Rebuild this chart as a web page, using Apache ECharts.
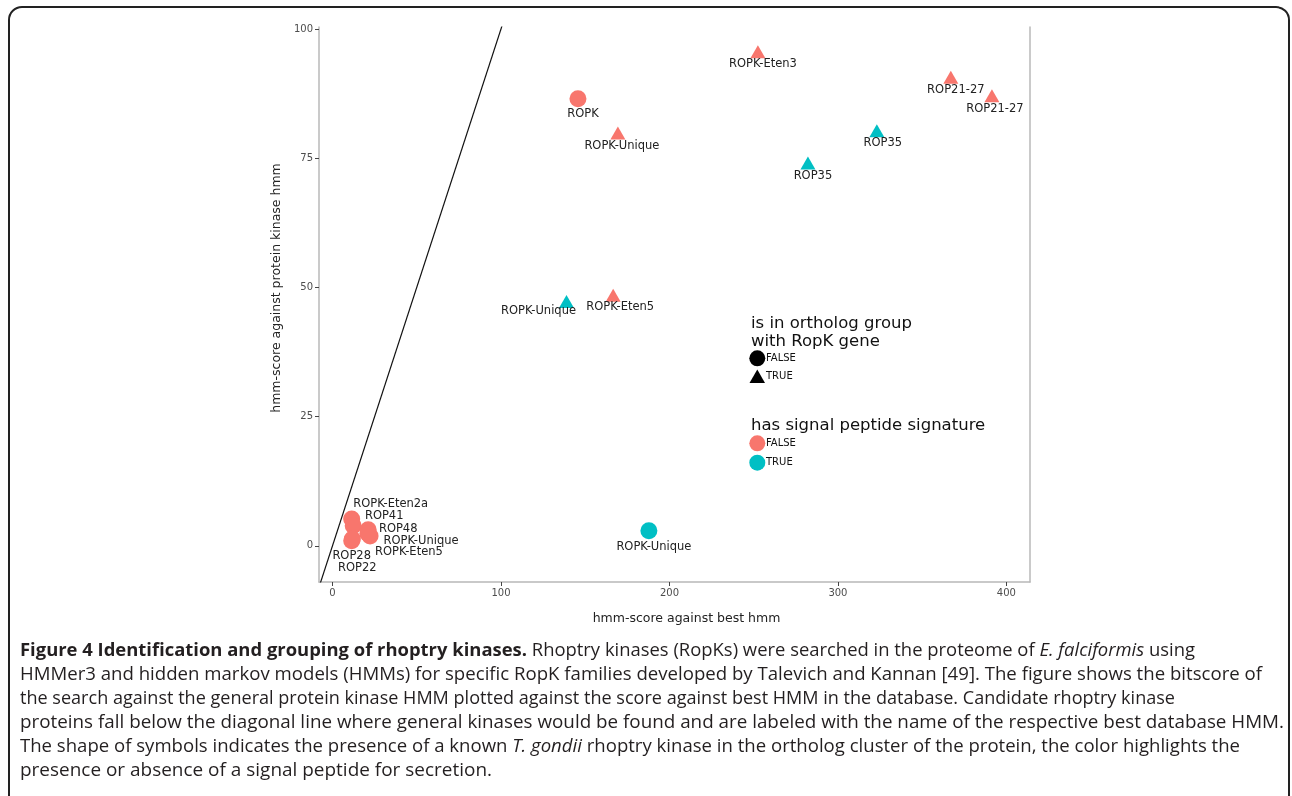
<!DOCTYPE html>
<html><head><meta charset="utf-8">
<script src="https://cdn.jsdelivr.net/npm/echarts@6/dist/echarts.min.js"></script>
<style>
html,body{margin:0;padding:0;background:#fff;}
#chart{position:absolute;left:0;top:0;width:1292px;height:796px;}
#frame{position:absolute;left:8px;top:6px;width:1282px;height:900px;border:2px solid #222;border-radius:14px;pointer-events:none;box-sizing:border-box}
#caption{position:absolute;left:20px;top:637px;font-family:'Open Sans';font-size:17.5px;line-height:24px;color:#231f20;white-space:nowrap}
#caption .ln{display:block;transform-origin:0 50%;width:max-content}
</style></head><body>
<div id="chart"></div>
<div id="frame"></div>
<div id="caption">
<span class="ln" data-w="1175"><b>Figure 4 Identification and grouping of rhoptry kinases.</b> Rhoptry kinases (RopKs) were searched in the proteome of <i>E. falciformis</i> using</span>
<span class="ln" data-w="1242">HMMer3 and hidden markov models (HMMs) for specific RopK families developed by Talevich and Kannan [49]. The figure shows the bitscore of</span>
<span class="ln" data-w="1155">the search against the general protein kinase HMM plotted against the score against best HMM in the database. Candidate rhoptry kinase</span>
<span class="ln" data-w="1264">proteins fall below the diagonal line where general kinases would be found and are labeled with the name of the respective best database HMM.</span>
<span class="ln" data-w="1220">The shape of symbols indicates the presence of a known <i>T. gondii</i> rhoptry kinase in the ortholog cluster of the protein, the color highlights the</span>
<span class="ln" data-w="472">presence or absence of a signal peptide for secretion.</span>
</div>
<script>
// ---- data ----
const names = ['ROPK-Eten3','ROP21-27','ROP21-27','ROPK','ROPK-Unique','ROP35','ROP35','ROPK-Unique','ROPK-Eten5','ROPK-Unique',
  'ROPK-Eten2a','ROP41','ROP48','ROPK-Unique','ROPK-Eten5','ROP28','ROP22'];
const bestHmm = [252.5, 367.0, 391.4, 145.7, 169.4, 323.1, 282.2, 138.9, 166.6, 187.8,
  11.4, 12.3, 21.2, 22.3, 21.0, 11.4, 11.8];
const kinaseHmm = [95.6, 90.7, 87.1, 86.5, 79.9, 80.3, 74.1, 47.3, 48.5, 2.9,
  5.2, 3.9, 3.1, 1.9, 2.4, 1.0, 1.3];
const inOrthologGroup = [true, true, true, false, true, true, true, true, true, false,
  false, false, false, false, false, false, false];
const hasSignalPeptide = [false, false, false, false, false, true, true, true, false, true,
  false, false, false, false, false, false, false];
const xTicks = [0, 100, 200, 300, 400];
const yTicks = [0, 25, 50, 75, 100];
const diagonal = [-20, 120];

// ---- layout/style (not data) ----
const labelOffsets = [[5,12],[5,13],[3,13],[5,15],[4,13],[6,12],[5,13],[-28,10],[7,12],[5,16],
  [39,-15],[31,-10],[30,-1],[51,5],[41,19],[0,15],[5,29]];
const COL_FALSE = '#F8766D', COL_TRUE = '#00BFC4';

const pts = names.map((n, i) => ({
  value: [bestHmm[i], kinaseHmm[i]],
  name: n,
  symbol: inOrthologGroup[i] ? 'triangle' : 'circle',
  symbolSize: inOrthologGroup[i] ? [15, 13] : 17,
  itemStyle: { color: hasSignalPeptide[i] ? COL_TRUE : COL_FALSE, opacity: 1 },
  label: { offset: labelOffsets[i] }
}));

const chart = echarts.init(document.getElementById('chart'), null, { renderer: 'canvas' });
const axisLabelStyle = { fontFamily: 'DejaVu Sans', fontSize: 10, color: '#4d4d4d' };
const option = {
  backgroundColor: '#fff',
  animation: false,
  grid: { left: 319, top: 27, width: 711, height: 555, containLabel: false },
  xAxis: {
    type: 'value', min: -8, max: 414,
    name: 'hmm-score against best hmm', nameLocation: 'middle', nameGap: 30,
    nameTextStyle: { fontFamily: 'DejaVu Sans', fontSize: 12.5, color: '#222', padding: [0, 0, 0, 24] },
    axisLine: { show: true, onZero: false, lineStyle: { color: '#b8b8b8', width: 1.5 } },
    axisTick: { show: true, customValues: xTicks, length: 4, lineStyle: { color: '#444', width: 1 } },
    axisLabel: Object.assign({ customValues: xTicks, margin: 6 }, axisLabelStyle),
    splitLine: { show: false }
  },
  yAxis: [{
    type: 'value', min: -7, max: 100.4,
    name: 'hmm-score against protein kinase hmm', nameLocation: 'middle', nameGap: 33, nameRotate: 90,
    nameTextStyle: { fontFamily: 'DejaVu Sans', fontSize: 12.5, color: '#222', padding: [0, 0, 0, 33] },
    axisLine: { show: true, onZero: false, lineStyle: { color: '#b8b8b8', width: 1.5 } },
    axisTick: { show: true, customValues: yTicks, length: 4, lineStyle: { color: '#444', width: 1 } },
    axisLabel: Object.assign({ customValues: yTicks, margin: 6 }, axisLabelStyle),
    splitLine: { show: false }
  }, {
    type: 'value', min: -7, max: 100.4, position: 'right',
    axisLine: { show: true, onZero: false, lineStyle: { color: '#b8b8b8', width: 1.5 } },
    axisTick: { show: false }, axisLabel: { show: false }, splitLine: { show: false }
  }],
  series: [{
    type: 'line',
    data: diagonal.map(v => [v, v]),
    symbol: 'none', clip: true, silent: true,
    lineStyle: { color: '#111', width: 1.2 }
  }, {
    type: 'scatter',
    data: pts,
    label: {
      show: true, position: 'inside', formatter: p => p.name,
      fontFamily: 'DejaVu Sans', fontSize: 11.5, color: '#222'
    }
  }],
  graphic: [
    { type: 'text', left: 751, top: 315, style: { text: 'is in ortholog group\nwith RopK gene', font: '16.5px DejaVu Sans', fill: '#111', lineHeight: 18 } },
    { type: 'circle', shape: { cx: 757.3, cy: 358.3, r: 8 }, style: { fill: '#000' } },
    { type: 'text', left: 766, top: 353, style: { text: 'FALSE', font: '10px DejaVu Sans', fill: '#111' } },
    { type: 'polygon', shape: { points: [[757.3, 369.5], [749.5, 383], [765, 383]] }, style: { fill: '#000' } },
    { type: 'text', left: 766, top: 371.5, style: { text: 'TRUE', font: '10px DejaVu Sans', fill: '#111' } },
    { type: 'text', left: 751, top: 417, style: { text: 'has signal peptide signature', font: '16.5px DejaVu Sans', fill: '#111' } },
    { type: 'circle', shape: { cx: 757.3, cy: 443.3, r: 8 }, style: { fill: COL_FALSE } },
    { type: 'text', left: 766, top: 438, style: { text: 'FALSE', font: '10px DejaVu Sans', fill: '#111' } },
    { type: 'circle', shape: { cx: 757.3, cy: 462.7, r: 8 }, style: { fill: COL_TRUE } },
    { type: 'text', left: 766, top: 457.5, style: { text: 'TRUE', font: '10px DejaVu Sans', fill: '#111' } }
  ]
};
chart.setOption(option);

document.querySelectorAll('#caption .ln').forEach(el => {
  const w = el.getBoundingClientRect().width;
  el.style.transform = 'scaleX(' + (+el.dataset.w / w) + ')';
});
</script>
</body></html>
